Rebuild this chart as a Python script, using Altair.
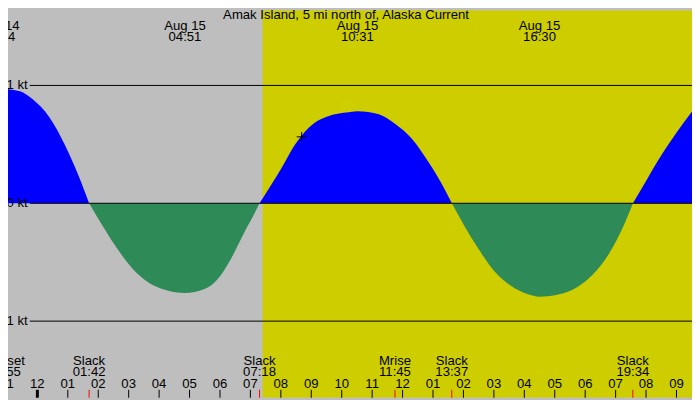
import altair as alt
import pandas as pd

GREY = "#bebebe"
YELLOW = "#cdcd00"
BLUE = "#0000ff"
GREEN = "#2e8b57"
FONT = dict(font="Liberation Sans", fontSize=13.3, color="black")

STATION = "Amak Island, 5 mi north of, Alaska Current"

# current: hours from Aug 15 00:00, knots (+ flood, - ebb, 0 = slack)
curve_hours = [-1.267, -0.575, -0.153, 0.40, 0.94, 1.37, 1.70,
               2.02, 2.57, 3.10, 3.65, 4.19, 4.85, 5.49, 5.92, 6.35, 6.79, 7.11, 7.30,
               7.98, 8.52, 9.06, 9.60, 10.14, 10.52, 11.22, 11.76, 12.31, 12.85, 13.28, 13.62,
               14.04, 14.47, 15.01, 15.56, 16.10, 16.50, 17.18, 17.72, 18.26, 18.80, 19.23, 19.57,
               19.89, 20.43, 20.97, 21.51]
curve_kt = [0.975, 0.95, 0.882, 0.728, 0.476, 0.224, 0.0,
            -0.14, -0.364, -0.546, -0.672, -0.734, -0.762, -0.728, -0.644, -0.476, -0.252, -0.098, 0.0,
            0.28, 0.518, 0.672, 0.742, 0.77, 0.782, 0.756, 0.672, 0.546, 0.35, 0.168, 0.0,
            -0.196, -0.378, -0.574, -0.70, -0.77, -0.793, -0.77, -0.714, -0.602, -0.42, -0.21, 0.0,
            0.14, 0.378, 0.588, 0.779]

# max flood / max ebb labels along the top
top_days = [14, 15, 15, 15]
top_clock = ["22:44", "04:51", "10:31", "16:30"]
top_date = ["Aug 14", "Aug 15", "Aug 15", "Aug 15"]

# slack / sun / moon events along the bottom
bottom_days = [14, 15, 15, 15, 15, 15]
bottom_clock = ["22:55", "01:42", "07:18", "11:45", "13:37", "19:34"]
bottom_name = ["Sunset", "Slack", "Slack", "Mrise", "Slack", "Slack"]

sunset_prev = ("22:55", 14)
sunrise = ("07:24", 15)
now = ("08:41", 15, 0.564)

hour_ticks = list(range(-1, 22))
hour_labels = ["11", "12", "01", "02", "03", "04", "05", "06", "07", "08", "09", "10",
               "11", "12", "01", "02", "03", "04", "05", "06", "07", "08", "09"]

kt_levels = [1, 0, -1]
kt_labels = ["1 kt", "0 kt", "-1 kt"]

X0, X1 = -0.965, 21.51


def clock(t, day):
    hh, mm = map(int, t.split(":"))
    return (day - 15) * 24 + hh + mm / 60


# split the curve into flood / ebb lobes, slack points shared by both neighbours
rows, lobe = [], 0
for h, v in zip(curve_hours, curve_kt):
    rows.append(dict(h=h, kt=v, lobe=lobe))
    if v == 0:
        lobe += 1
        rows.append(dict(h=h, kt=v, lobe=lobe))
curve = pd.DataFrame(rows)
curve["kind"] = curve.groupby("lobe")["kt"].transform(lambda s: "flood" if s.sum() > 0 else "ebb")

top = pd.DataFrame({"h": [clock(c, d) for c, d in zip(top_clock, top_days)],
                    "date": top_date, "time": top_clock})
bottom = pd.DataFrame({"h": [clock(c, d) for c, d in zip(bottom_clock, bottom_days)],
                       "name": bottom_name, "time": bottom_clock})
bands = pd.DataFrame({"start": [clock(*sunset_prev), clock(*sunrise)],
                      "end": [clock(*sunrise), X1],
                      "part": ["night", "day"]})
hours = pd.DataFrame({"h": hour_ticks, "label": hour_labels})
kts = pd.DataFrame({"kt": kt_levels, "label": kt_labels})
marker = pd.DataFrame({"h": [clock(now[0], now[1])], "kt": [now[2]]})

xs = alt.Scale(domain=[X0, X1], nice=False, zero=False)
ys = alt.Scale(domain=[-1.650, 1.638], nice=False, zero=False)
X = lambda f: alt.X(f, scale=xs, axis=None)

band = alt.Chart(bands).mark_rect(clip=True).encode(
    x=X("start:Q"), x2="end:Q",
    y=alt.value(0), y2=alt.value(392),
    color=alt.Color("part:N", scale=alt.Scale(domain=["night", "day"], range=[GREY, YELLOW]), legend=None),
)

area = alt.Chart(curve).mark_area(interpolate="monotone", clip=True).encode(
    x=X("h:Q"),
    y=alt.Y("kt:Q", scale=ys, axis=None, stack=None),
    y2=alt.datum(0),
    color=alt.Color("kind:N", scale=alt.Scale(domain=["flood", "ebb"], range=[BLUE, GREEN]), legend=None),
    detail="lobe:N",
)

kt_rule = alt.Chart(kts).mark_rule(color="black", strokeWidth=1).encode(
    x=alt.value(22), x2=alt.value(692), y=alt.Y("kt:Q", scale=ys, axis=None),
)
kt_text = alt.Chart(kts).mark_text(align="right", baseline="middle", **FONT).encode(
    x=alt.value(20), y=alt.Y("kt:Q", scale=ys, axis=None), text="label:N",
)

top_date_t = alt.Chart(top).mark_text(baseline="middle", **FONT).encode(
    x=X("h:Q"), y=alt.value(15.5), text="date:N")
top_time_t = alt.Chart(top).mark_text(baseline="middle", **FONT).encode(
    x=X("h:Q"), y=alt.value(27.5), text="time:N")

bot_name_t = alt.Chart(bottom).mark_text(baseline="middle", **FONT).encode(
    x=X("h:Q"), y=alt.value(354.5), text="name:N")
bot_time_t = alt.Chart(bottom).mark_text(baseline="middle", **FONT).encode(
    x=X("h:Q"), y=alt.value(366), text="time:N")
bot_tick = alt.Chart(bottom).mark_rule(color="red", strokeWidth=1).encode(
    x=X("h:Q"), y=alt.value(384), y2=alt.value(392))

hour_t = alt.Chart(hours).mark_text(baseline="middle", **FONT).encode(
    x=X("h:Q"), y=alt.value(378.5), text="label:N")
hour_tick = alt.Chart(hours).mark_rule(color="black").encode(
    x=X("h:Q"), y=alt.value(384), y2=alt.value(392),
    strokeWidth=alt.condition(alt.datum.h == 0, alt.value(3), alt.value(1)),
)

plus = alt.Chart(marker).mark_point(
    shape="M -1 0 L 1 0 M 0 -1 L 0 1", filled=False, color="black", strokeWidth=1, size=100, opacity=1,
).encode(x=X("h:Q"), y=alt.Y("kt:Q", scale=ys, axis=None))

title = alt.Chart(pd.DataFrame({"t": [STATION]})).mark_text(baseline="middle", **FONT).encode(
    x=alt.value(342), y=alt.value(5), text="t:N")

chart = alt.layer(
    band, area, kt_rule, kt_text, top_date_t, top_time_t,
    bot_name_t, bot_time_t, hour_t, hour_tick, bot_tick, plus, title,
).resolve_scale(
    color="independent",
).properties(
    width=692, height=392, padding=0, autosize="none", background=GREY,
).configure_view(strokeWidth=0)

chart.save("out.html", embed_options={"renderer": "svg", "actions": False})
